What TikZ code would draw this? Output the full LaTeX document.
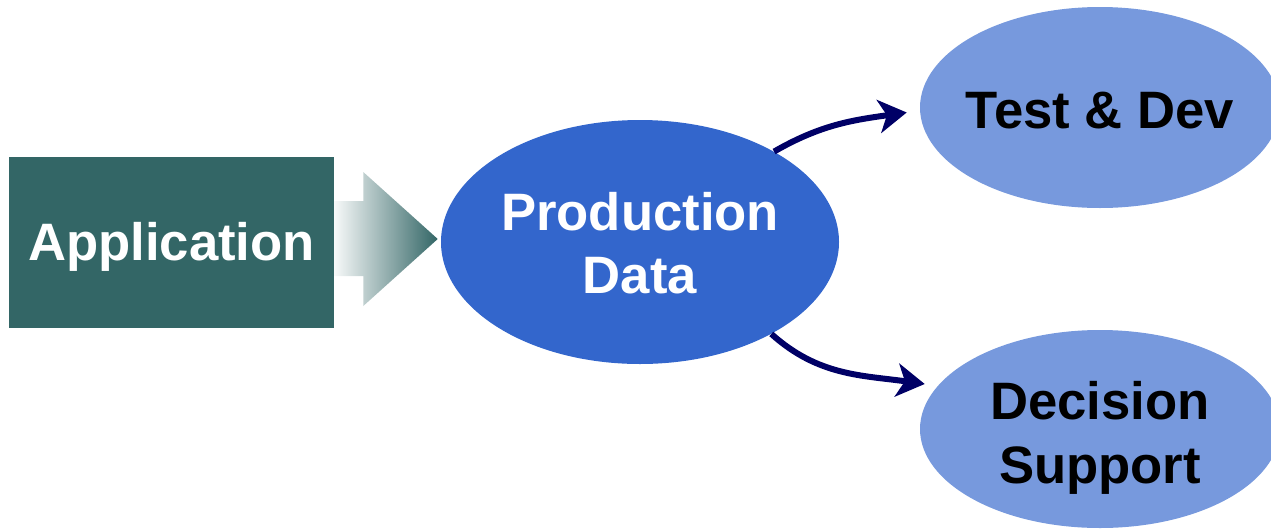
\documentclass[tikz,border=0pt]{standalone}
\usepackage{fontspec}
\setmainfont{Liberation Sans}
\usetikzlibrary{arrows.meta,calc,shapes.geometric}
\definecolor{appteal}{HTML}{336666}
\definecolor{prodblue}{HTML}{3366CC}
\definecolor{copyblue}{HTML}{7799DD}
\definecolor{flownavy}{HTML}{000066}
% centred text, lowered by #1, whose width does not enlarge the enclosing shape
\newcommand\centretext[2]{\makebox[0pt]{\raisebox{-#1}[\height][\depth]{\begin{tabular}{@{}c@{}}#2\end{tabular}}}}

\begin{document}
\begin{tikzpicture}[x=0.75pt,y=-0.75pt,
  bigfont/.style={font=\bfseries\fontsize{39.5pt}{47.3pt}\selectfont},
  appbox/.style={rectangle, fill=appteal, inner sep=0pt,
    minimum width=243.75pt, minimum height=128.25pt, text=white, bigfont},
  prodell/.style={ellipse, fill=prodblue, inner sep=0pt,
    minimum width=298.5pt, minimum height=183pt, text=white, bigfont},
  copyell/.style={ellipse, fill=copyblue, inner sep=0pt,
    minimum width=270pt, text=black, bigfont},
  flow/.style={draw=flownavy, line width=4.5pt,
    -{Stealth[length=21pt, width=25pt, inset=6pt]}},
]
\clip (0,0) rectangle (1271,529);

\node[appbox] (app) at (171.5,242.5) {\raisebox{-3pt}[\height][\depth]{Application}};
\node[prodell] (pd) at (640,242) {\centretext{5.2pt}{Production\\Data}};
\node[copyell, minimum height=150.75pt] (td) at (1100,107.5) {\centretext{6.1pt}{Test \& Dev}};
\node[copyell, minimum height=148.5pt] (ds) at (1100,429) {\centretext{7.4pt}{Decision\\Support}};

% shaded block arrow feeding the production data
\shade[left color=appteal!4, right color=appteal]
  ($(app.east)+(0,-41.5)$) -- ($(app.east)+(29,-41.5)$) -- ($(app.east)+(29,-70.5)$)
  -- ($(pd.west)+(-3,-3)$)
  -- ($(app.east)+(29,63.5)$) -- ($(app.east)+(29,33.5)$) -- ($(app.east)+(0,33.5)$) -- cycle;

% copies taken from the production data
\draw[flow] (pd.34) to[out=30, in=188] ($(td.west)+(-13,5)$);
\draw[flow] (pd.-35) to[out=-42, in=172] ($(ds.west)+(5,-45)$);
\end{tikzpicture}
\end{document}
